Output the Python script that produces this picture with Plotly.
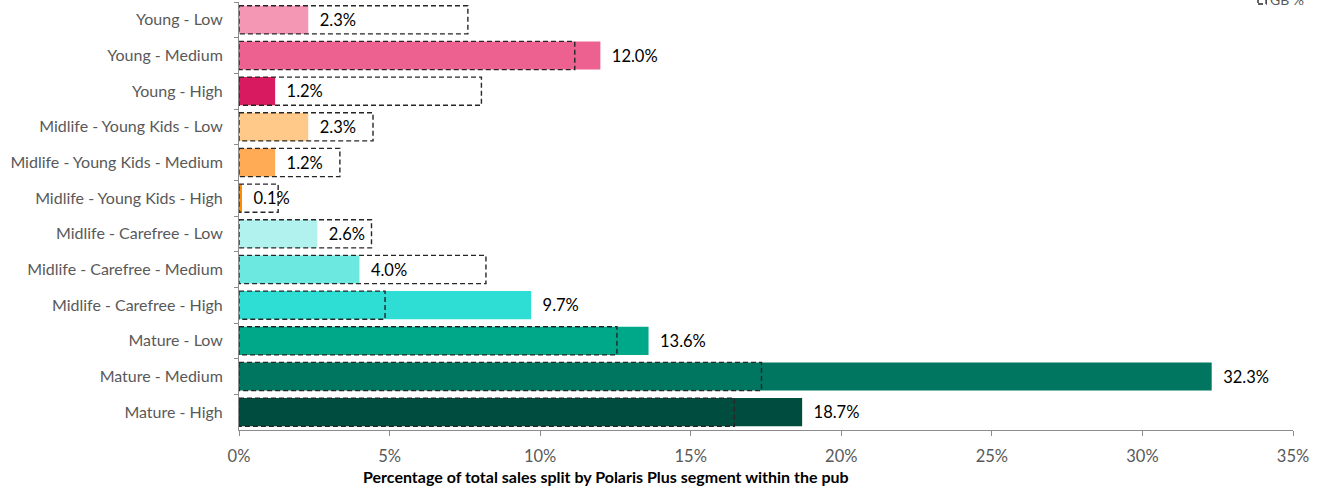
import plotly.graph_objects as go

# Segments, top to bottom
segments = [
    "Young - Low", "Young - Medium", "Young - High",
    "Midlife - Young Kids - Low", "Midlife - Young Kids - Medium", "Midlife - Young Kids - High",
    "Midlife - Carefree - Low", "Midlife - Carefree - Medium", "Midlife - Carefree - High",
    "Mature - Low", "Mature - Medium", "Mature - High",
]
# Share of pub sales by segment (%)
pub_share = [2.3, 12.0, 1.2, 2.3, 1.2, 0.1, 2.6, 4.0, 9.7, 13.6, 32.3, 18.7]
# GB benchmark share (%)
gb_share = [7.6, 11.15, 8.05, 4.45, 3.35, 1.3, 4.4, 8.2, 4.85, 12.55, 17.35, 16.45]

seg_colors = [
    "#F397B5", "#EC6190", "#D81B60",
    "#FFC98A", "#FFAA55", "#FF8C00",
    "#B2F2EE", "#6CE8E0", "#2EDED5",
    "#00A88A", "#007660", "#004D40",
]

BAR_HALF = 0.395
TXT = "#595959"
FONT = "Lato"
DASH = dict(color="#262626", width=1.4, dash="5px,3px")

fig = go.Figure()
fig.add_trace(go.Bar(
    y=segments, x=pub_share, orientation="h",
    marker=dict(color=seg_colors, line=dict(width=0)),
    text=[f"&nbsp;&nbsp;{v:.1f}%" for v in pub_share],
    textposition="outside",
    textfont=dict(family=FONT, size=16.5, color="#000000"),
    cliponaxis=False,
    showlegend=False,
    hoverinfo="x+y",
))

# Dashed GB outlines on each row
shapes = []
for i, v in enumerate(gb_share):
    shapes.append(dict(
        type="rect", xref="x", yref="y",
        x0=0, x1=v, y0=i - BAR_HALF, y1=i + BAR_HALF,
        line=DASH, fillcolor="rgba(0,0,0,0)", layer="above",
    ))

# Legend key for the GB outline (top-right corner)
shapes.append(dict(
    type="rect", xref="paper", yref="paper",
    x0=0.9668, x1=0.9745, y0=0.9953, y1=1.03,
    line=DASH, fillcolor="rgba(0,0,0,0)",
))

annotations = [
    dict(text="GB %", xref="paper", yref="paper", x=0.9765, y=1.007,
         xanchor="left", yanchor="middle", showarrow=False,
         font=dict(family=FONT, size=14, color=TXT)),
    dict(text="<b>Percentage of total sales split by Polaris Plus segment within the pub</b>",
         xref="paper", yref="paper", x=0.348, y=-0.108,
         xanchor="center", yanchor="middle", showarrow=False,
         font=dict(family=FONT, size=16, color="#000000")),
]

fig.update_layout(
    width=1331, height=489,
    margin=dict(l=239, r=38, t=2, b=59),
    paper_bgcolor="white", plot_bgcolor="white",
    bargap=0.21,
    shapes=shapes,
    annotations=annotations,
    font=dict(family=FONT, color=TXT),
    xaxis=dict(
        range=[0, 35], dtick=5, ticksuffix="%",
        showgrid=False, zeroline=False,
        showline=True, linecolor="#8c8c8c", linewidth=1,
        ticks="outside", ticklen=5, tickcolor="#8c8c8c",
        tickfont=dict(family=FONT, size=16.5, color=TXT),
        ticklabelstandoff=6,
    ),
    yaxis=dict(
        type="category", categoryorder="array", categoryarray=segments,
        autorange="reversed",
        showgrid=False, zeroline=False,
        showline=True, linecolor="#8c8c8c", linewidth=1,
        ticks="outside", ticklen=4, tickcolor="#8c8c8c", tickson="boundaries",
        tickfont=dict(family=FONT, size=16, color=TXT),
        ticklabelstandoff=12,
    ),
)

fig.write_html("out.html")
